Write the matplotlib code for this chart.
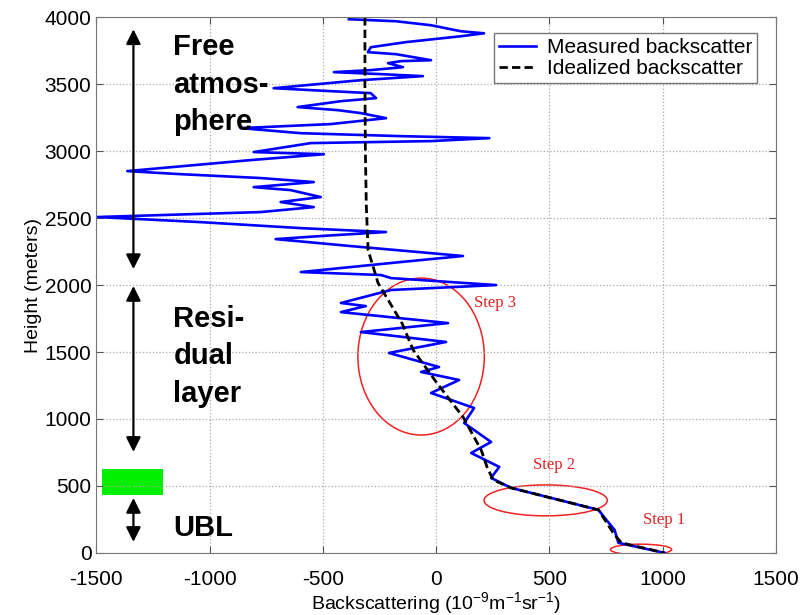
import numpy as np
import matplotlib.pyplot as plt
from matplotlib.patches import Ellipse, Rectangle

plt.rcParams["font.family"] = ["Liberation Sans", "DejaVu Sans"]
plt.rcParams["axes.unicode_minus"] = False
plt.rcParams["mathtext.default"] = "regular"

# measured profile (top to bottom)
meas_h = [3985, 3970, 3940, 3895, 3880, 3858, 3814, 3776, 3739, 3724, 3679, 3672,
          3657, 3627, 3605, 3590, 3575, 3560, 3530, 3470, 3448, 3433, 3396, 3373,
          3329, 3306, 3284, 3246, 3202, 3172, 3134, 3112, 3097, 3075, 3060, 2993,
          2977, 2933, 2851, 2828, 2799, 2769, 2731, 2709, 2657, 2620, 2582, 2545,
          2508, 2470, 2425, 2396, 2366, 2343, 2291, 2217, 2172, 2097, 2075, 2052,
          2000, 1963, 1866, 1843, 1798, 1716, 1649, 1575, 1493, 1388, 1351, 1291,
          1194, 1082, 970, 828, 746, 642, 560, 485, 410, 321, 246, 172, 75, 0]
meas_x = [-385, -177, -22, 110, 212, 110, -133, -288, -301, -177, -22, -155,
          -212, -146, -288, -451, -243, -58, -332, -717, -465, -288, -265, -420,
          -611, -434, -332, -221, -465, -863, -597, -155, 235, -22, -553, -805,
          -495, -819, -1363, -1128, -774, -540, -805, -642, -509, -686, -540, -774,
          -1496, -1040, -597, -221, -509, -708, -376, 119, -155, -597, -243, -199,
          265, -199, -420, -310, -420, 53, -332, 44, -208, 13, -66, 102,
          -22, 168, 124, 243, 155, 279, 243, 332, 509, 717, 752, 788, 805, 1009]

# idealized profile
ideal_h = [4000, 3500, 3000, 2600, 2261, 2015, 1714, 1515, 1268, 1015, 769, 642,
           545, 485, 321, 134, 75, 0]
ideal_x = [-314, -314, -312, -308, -300, -256, -150, -101, 4, 119, 199, 225,
           252, 332, 717, 788, 819, 1009]

# step ellipses: (center x, center h, width, height, label, label x, label h)
steps = [
    (-66, 1466, 558, 1172, "Step 3", 262, 1866),
    (484, 392, 544, 231, "Step 2", 522, 657),
    (905, 25, 270, 80, "Step 1", 1005, 246),
]

fig = plt.figure(figsize=(8.09, 6.15), dpi=100)
ax = fig.add_axes([0.119, 0.101, 0.84, 0.871])

ax.plot(meas_x, meas_h, color="#0000ff", lw=1.9, label="Measured backscatter")
ax.plot(ideal_x, ideal_h, color="black", lw=2.0, ls=(0, (3, 1.5)),
        label="Idealized backscatter")

for cx, cy, w, h, lab, lx, ly in steps:
    ax.add_patch(Ellipse((cx, cy), w, h, fill=False, ec="#ee2222", lw=1.1))
    ax.text(lx, ly, lab, color="#dd2222", family="Liberation Serif",
            fontsize=12, ha="center", va="center")

# layer annotations
arrow_x = -1336
arrows = [(3910, 2119), (1993, 754), (410, 82)]
for top, bot in arrows:
    ax.annotate("", xy=(arrow_x, top), xytext=(arrow_x, bot),
                arrowprops=dict(arrowstyle="<|-|>", color="black", lw=1.6,
                                mutation_scale=22, shrinkA=0, shrinkB=0))

bold = dict(fontsize=21, fontweight="bold", ha="left", va="top", linespacing=1.42)
ax.text(-1160, 3880, "Free\natmos-\nphere", **bold)
ax.text(-1160, 1850, "Resi-\ndual\nlayer", **bold)
ax.text(-1160, 186, "UBL", fontsize=21, fontweight="bold", ha="left", va="center")

ax.add_patch(Rectangle((-1474, 433), 270, 194, color="#00ee00", lw=0))

ax.set_xlim(-1500, 1500)
ax.set_ylim(0, 4000)
ax.set_xticks(np.arange(-1500, 1501, 500))
ax.set_yticks(np.arange(0, 4001, 500))
ax.tick_params(direction="in", top=True, right=True, labelsize=15, length=5,
               color="#555555")
ax.tick_params(axis="x", pad=12)
ax.grid(True, ls=":", color="#aaaaaa", lw=0.9)
for s in ax.spines.values():
    s.set_color("#777777")

ax.set_xlabel(r"Backscattering (10$^{-9}$m$^{-1}$sr$^{-1}$)", fontsize=14, labelpad=1)
ax.set_ylabel("Height (meters)", fontsize=14, labelpad=2)

leg = ax.legend(loc="upper right", fontsize=15, fancybox=False, framealpha=1,
                edgecolor="#777777", handlelength=1.8, handletextpad=0.5,
                borderpad=0.25, labelspacing=0.1, bbox_to_anchor=(0.988, 0.99))
leg.get_frame().set_linewidth(1.0)

fig.savefig("out.png", dpi=100)
